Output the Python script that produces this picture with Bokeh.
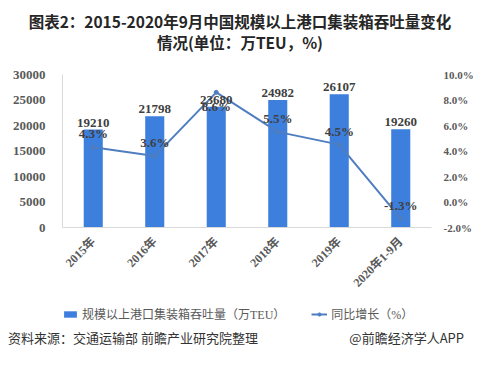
import math
from bokeh.plotting import figure
from bokeh.layouts import column
from bokeh.models import (Range1d, LinearAxis, FixedTicker, CustomJSTickFormatter,
                          NumeralTickFormatter, Legend, LegendItem, ColumnDataSource, Div)
from bokeh.core.properties import value
from bokeh.embed import file_html
from bokeh.resources import INLINE

categories = ["2015年", "2016年", "2017年", "2018年", "2019年", "2020年1-9月"]
throughput = [19210, 21798, 23680, 24982, 26107, 19260]
growth = [4.3, 3.6, 8.6, 5.5, 4.5, -1.3]
left_ticks = [0, 5000, 10000, 15000, 20000, 25000, 30000]
right_ticks = [-2, 0, 2, 4, 6, 8, 10]

title1 = "图表2：2015-2020年9月中国规模以上港口集装箱吞吐量变化"
title2 = "情况(单位：万TEU，%)"
bar_name = "规模以上港口集装箱吞吐量（万TEU）"
line_name = "同比增长（%）"
source_left = "资料来源：交通运输部 前瞻产业研究院整理"
source_right = "@前瞻经济学人APP"

BAR = "#3D7FDC"
LINE = "#4F7EC0"
SERIF = "Liberation Serif, Noto Sans CJK SC"
SANS = "Noto Sans CJK SC"
W = 480
NAN = float("nan")

# ---------------- title ----------------
title_div = Div(width=W, height=60, margin=0, text=(
    f"<div style=\"width:{W}px;text-align:center;font-family:'Noto Sans CJK SC';"
    "font-weight:bold;font-size:15.5px;line-height:21px;color:#262626;padding-top:11px;"
    f"white-space:nowrap;\">{title1}<br>{title2}</div>"))

# ---------------- main chart ----------------
p = figure(width=W, height=240, x_range=categories, y_range=Range1d(0, 30000),
           output_backend="svg", toolbar_location=None,
           min_border_left=62, min_border_right=49, min_border_top=14, min_border_bottom=73)
p.extra_y_ranges = {"pct": Range1d(-2, 10)}
p.outline_line_color = None
p.xgrid.grid_line_color = None
p.ygrid.grid_line_color = None
p.border_fill_color = "white"

src = ColumnDataSource(dict(cat=categories, tp=throughput, gr=growth,
                            tp_txt=[str(v) for v in throughput]))

p.vbar(x="cat", top="tp", width=0.31, source=src, fill_color=BAR, line_color=None)
p.line(x="cat", y="gr", source=src, y_range_name="pct", line_color=LINE, line_width=2)
p.scatter(x="cat", y="gr", source=src, y_range_name="pct", size=4,
          fill_color=LINE, line_color=LINE)

p.text(x="cat", y="tp", text="tp_txt", source=src, text_align="center", text_baseline="bottom",
       y_offset=-3, text_font=value("Liberation Serif"), text_font_style="bold",
       text_font_size="13px", text_color="#404040")

peak = max(growth)
above = [(c, g) for c, g in zip(categories, growth) if g != peak]
below = [(c, g) for c, g in zip(categories, growth) if g == peak]
p.text(x=[c for c, g in above], y=[g for c, g in above], text=[f"{g:.1f}%" for c, g in above],
       y_range_name="pct", text_align="center", text_baseline="bottom", y_offset=-6,
       text_font=value("Liberation Serif"), text_font_style="bold",
       text_font_size="13px", text_color="#404040")
p.text(x=[c for c, g in below], y=[g for c, g in below], text=[f"{g:.1f}%" for c, g in below],
       y_range_name="pct", text_align="center", text_baseline="top", y_offset=7,
       text_font=value("Liberation Serif"), text_font_style="bold",
       text_font_size="13px", text_color="#404040")

for ax in (p.yaxis[0], p.xaxis[0]):
    ax.major_tick_line_color = None
    ax.minor_tick_line_color = None
    ax.axis_line_color = "#D9D9D9"
    ax.major_label_text_font = SERIF
    ax.major_label_text_font_style = "bold"
    ax.major_label_text_color = "#595959"
    ax.major_label_text_font_size = "12px"
p.yaxis[0].ticker = FixedTicker(ticks=left_ticks)
p.yaxis[0].formatter = NumeralTickFormatter(format="0")
p.yaxis[0].major_label_text_font_size = "13px"
p.yaxis[0].major_label_standoff = 11
p.xaxis[0].major_label_orientation = math.pi / 4
p.xaxis[0].major_label_standoff = 6

ra = LinearAxis(y_range_name="pct", ticker=FixedTicker(ticks=right_ticks),
                formatter=CustomJSTickFormatter(code="return tick.toFixed(1) + '%';"))
ra.axis_line_color = None
ra.major_tick_line_color = None
ra.minor_tick_line_color = None
ra.major_label_text_font = SERIF
ra.major_label_text_font_style = "bold"
ra.major_label_text_color = "#595959"
ra.major_label_text_font_size = "11px"
ra.major_label_standoff = 6
p.add_layout(ra, "right")

# ---------------- legend strip (proxy renderers hold no drawable data) ----------------
bot = figure(width=W, height=30, x_range=Range1d(0, 1), y_range=Range1d(0, 1),
             x_axis_type=None, y_axis_type=None, output_backend="svg",
             toolbar_location=None, min_border=0)
bot.outline_line_color = None
bot.xgrid.grid_line_color = None
bot.ygrid.grid_line_color = None
bot.border_fill_color = "white"
proxy_bar = bot.vbar(x=[NAN], top=[NAN], width=1, fill_color=BAR, line_color=None)
proxy_line = bot.line(x=[NAN], y=[NAN], line_color=LINE, line_width=2)
proxy_pts = bot.scatter(x=[NAN], y=[NAN], size=4, fill_color=LINE, line_color=LINE)
legend = Legend(items=[LegendItem(label=bar_name, renderers=[proxy_bar]),
                       LegendItem(label=line_name, renderers=[proxy_line, proxy_pts])],
                orientation="horizontal", location=(0, 7),
                label_text_font=SERIF, label_text_font_size="12px", label_text_color="#595959",
                glyph_width=16, glyph_height=8, label_standoff=4, spacing=26,
                padding=0, margin=0, border_line_color=None, background_fill_alpha=0)
bot.add_layout(legend, "center")

# ---------------- source line ----------------
source_div = Div(width=W, height=34, margin=0, text=(
    f"<div style=\"width:{W - 12}px;display:flex;justify-content:space-between;"
    "font-family:'Noto Sans CJK SC';font-size:13px;line-height:16px;color:#333333;"
    f"padding-left:8px;padding-right:4px;white-space:nowrap;\"><span>{source_left}</span>"
    f"<span>{source_right}</span></div>"))

layout = column(title_div, p, bot, source_div, spacing=0)
open("out.html", "w").write(file_html(layout, INLINE))
